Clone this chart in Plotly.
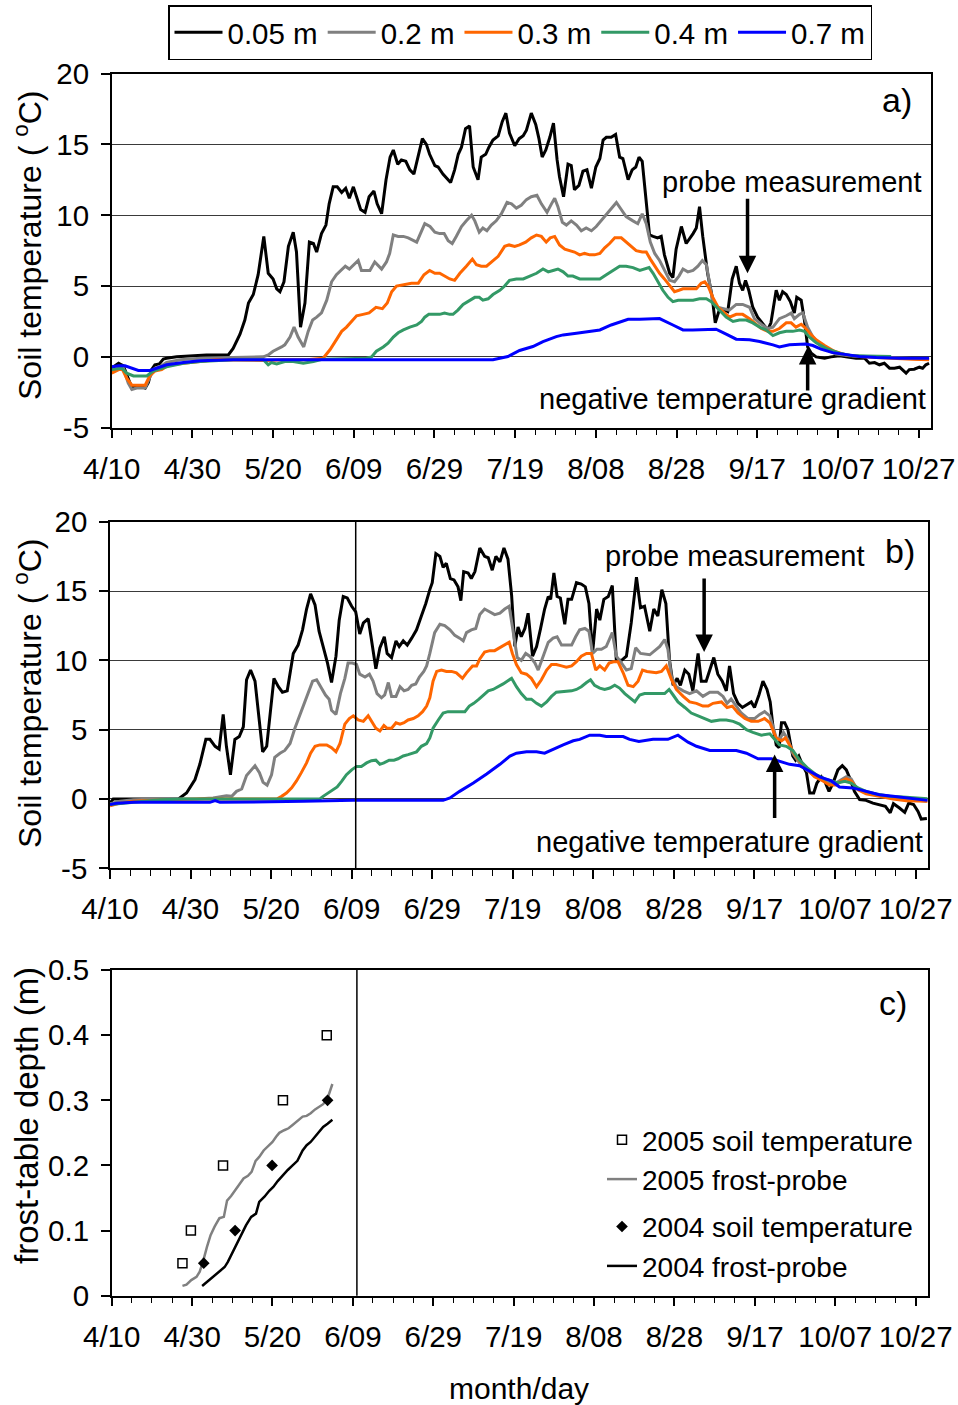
import plotly.graph_objects as go

# ---------------------------------------------------------------- data
# x values are days counted from 10 April
TICK_DAYS = [0, 20, 40, 60, 80, 100, 120, 140, 160, 180, 200]
TICK_LABELS = ["4/10", "4/30", "5/20", "6/09", "6/29", "7/19", "8/08",
               "8/28", "9/17", "10/07", "10/27"]
TEMP_TICKS = [-5, 0, 5, 10, 15, 20]
TEMP_LABELS = ["-5", "0", "5", "10", "15", "20"]
DEPTH_TICKS = [0, 0.1, 0.2, 0.3, 0.4, 0.5]
DEPTH_LABELS = ["0", "0.1", "0.2", "0.3", "0.4", "0.5"]

SENSOR_DEPTHS = ["0.05 m", "0.2 m", "0.3 m", "0.4 m", "0.7 m"]

# panel a) soil temperature (day, degC)
A_005 = [(0, -0.8), (1.7, -0.45), (2.9, -0.63), (4.1, -1.6), (5, -2.2), (6.2, -2.05), (7.4, -2.1),
         (8.3, -2.2), (9.1, -1.8), (9.9, -0.9), (10.7, -0.56), (11.8, -0.5), (12.8, -0.16), (13.6, -0.1),
         (16.1, 0), (23.5, 0.14), (28.9, 0.14), (30.1, 0.6), (31.8, 1.6), (33, 2.6), (33.9, 3.8), (35.1, 4.4),
         (36.3, 5.8), (37.7, 8.5), (38.8, 5.9), (40, 5.5), (40.9, 4.8), (41.7, 4.6), (42.7, 5.3), (43.8, 7.8),
         (45, 8.8), (45.8, 7.4), (46.8, 2.1), (47.9, 3.8), (49, 8.1), (50, 8.0), (50.8, 7.4), (52, 8.7),
         (53.1, 9.3), (53.9, 10.8), (54.9, 12.0), (55.9, 12.0), (57, 11.6), (58, 11.9), (58.9, 11.2),
         (59.9, 12.0), (60.9, 11.1), (61.7, 10.4), (62.8, 10.2), (63.8, 11.3), (65, 11.7), (65.8, 10.8),
         (66.9, 10.1), (68, 12.5), (69, 14.1), (69.8, 14.6), (70.9, 13.6), (71.8, 13.9), (72.9, 13.8),
         (73.9, 13.2), (74.9, 12.9), (76, 14.3), (77, 15.4), (78, 15.0), (78.8, 14.3), (80.1, 13.5),
         (80.9, 13.4), (82.1, 12.9), (83, 12.6), (84, 12.3), (85, 13.2), (85.9, 14.3), (86.7, 14.8),
         (87.7, 16.1), (88.7, 16.3), (89.6, 13.4), (90.8, 12.5), (91.6, 14.1), (92.7, 14.3), (93.5, 14.8),
         (94.5, 15.3), (95.8, 15.6), (96.8, 16.6), (97.7, 17.2), (98.6, 15.8), (99.9, 14.9), (101, 15.4),
         (102, 15.6), (102.8, 16.0), (104, 17.2), (105.1, 16.4), (105.9, 15.4), (106.7, 14.1), (107.6, 14.6),
         (108.6, 15.5), (109.5, 16.5), (110.4, 13.9), (111, 12.7), (112, 11.3), (113.1, 13.6), (113.9, 13.5),
         (114.7, 11.8), (115.8, 12.1), (116.8, 13.1), (117.8, 13.2), (118.9, 11.9), (120, 13.4), (121, 14.0),
         (121.8, 15.3), (122.6, 15.5), (123.8, 15.5), (124.9, 15.7), (125.9, 14.1), (126.7, 14.0),
         (128, 12.5), (129, 13.2), (129.9, 13.4), (130.7, 14.1), (131.5, 13.8), (132.5, 10.6), (133.3, 8.6),
         (134.2, 8.5), (135.3, 8.4), (136.2, 8.5), (137, 7.2), (138.3, 5.9), (139.1, 5.6), (139.9, 7.6),
         (141.2, 9.2), (142.4, 8.0), (143.2, 8.3), (144.1, 8.7), (144.9, 9.1), (145.7, 10.6), (146.5, 8.5),
         (147.7, 5.9), (148.8, 4.3), (149.6, 2.4), (150.6, 3.3), (151.9, 3.3), (152.7, 3.2), (153.8, 5.5),
         (154.8, 6.4), (155.6, 5.2), (156.4, 4.7), (157.1, 5.4), (157.9, 4.7), (158.9, 3.5), (160.1, 2.8),
         (161.4, 2.3), (162.6, 1.9), (163.4, 2.4), (164.7, 4.7), (165.5, 4.0), (166.3, 4.6), (167.2, 4.4),
         (168.2, 3.9), (169.2, 3.1), (169.8, 4.2), (170.9, 4.0), (171.7, 2.6), (172.5, 0.7), (173.4, 0.26),
         (174.6, 0), (176.7, -0.1), (178.3, 0), (180.4, 0.07), (182.4, -0.02), (184.5, -0.1), (186.6, -0.1),
         (187.8, -0.45), (189.1, -0.4), (190.3, -0.56), (191.5, -0.45), (192.8, -0.8), (194, -0.8),
         (195.3, -0.73), (196.9, -1.15), (197.7, -0.9), (198.9, -0.87), (200.2, -0.73), (201, -0.8),
         (201.8, -0.56), (202.6, -0.45)]

A_020 = [(0, -1.0), (1.7, -0.8), (2.9, -0.8), (4.1, -1.85), (5, -2.3), (6.2, -2.2), (7.4, -2.2), (8.3, -2.2),
         (9.5, -1.4), (10.7, -0.8), (12, -0.7), (13.6, -0.4), (17, -0.2), (21.9, -0.1), (30.1, -0.05),
         (37.6, 0), (38.8, 0.14), (40, 0.4), (42.1, 0.7), (42.9, 0.85), (44.2, 1.4), (45.2, 2.1), (46.2, 1.4),
         (47.6, 0.7), (48.7, 1.8), (49.8, 2.6), (50.8, 2.8), (52, 3.1), (53.3, 4.0), (54.5, 5.3), (55.7, 5.8),
         (56.7, 6.1), (57.9, 6.4), (58.9, 6.2), (59.9, 6.5), (61.1, 6.8), (61.9, 6.1), (64, 6.1), (65.2, 6.7),
         (66.9, 6.2), (68.1, 6.7), (68.9, 7.3), (69.8, 8.6), (71, 8.5), (72.3, 8.5), (73.5, 8.4), (75.6, 8.1),
         (76.8, 8.9), (77.6, 9.4), (78.9, 9.2), (80.1, 8.8), (81.3, 8.7), (82.4, 8.7), (83.4, 8.2), (84.4, 8.0),
         (85.4, 8.5), (86.7, 9.2), (87.9, 9.6), (89.2, 10.0), (90, 9.6), (91.1, 8.8), (92, 9.1), (93, 8.9),
         (94.1, 9.3), (95.3, 9.6), (96.6, 10.1), (98, 10.9), (99.1, 10.8), (100.3, 10.5), (101.5, 10.7),
         (102.8, 11.1), (104, 11.3), (105.4, 11.4), (106.5, 10.8), (107.9, 10.2), (109, 10.8), (109.8, 11.2),
         (110.6, 10.6), (111.7, 9.5), (112.7, 9.3), (113.9, 9.6), (115.2, 9.3), (116.4, 8.9), (117.6, 9.1),
         (118.9, 8.9), (120.1, 9.2), (121.8, 9.8), (123, 10.2), (124.3, 10.6), (125.1, 10.9), (126.3, 10.4),
         (127.5, 9.9), (129.2, 9.6), (130.4, 9.4), (131.5, 10.1), (132.5, 9.4), (133.5, 8.1), (134.6, 7.3),
         (135.8, 6.8), (137, 6.1), (138.3, 5.4), (139.5, 5.3), (140.6, 5.7), (141.6, 6.2), (142.8, 6.0),
         (144.1, 6.1), (145.3, 6.4), (146.4, 6.8), (147.4, 6.5), (148.2, 5.2), (149, 3.8), (150.2, 3.5),
         (151.9, 3.4), (153.1, 3.3), (154.8, 3.7), (156.4, 3.7), (158.1, 3.5), (159.3, 2.7), (161, 2.3),
         (162.6, 2.0), (163.9, 2.1), (165.5, 2.7), (167.2, 2.9), (168.4, 3.1), (169.2, 2.7), (170.5, 3.0),
         (171.3, 3.1), (172.5, 2.1), (173.8, 1.4), (175.4, 0.85), (177.1, 0.5), (179.5, 0.2), (182.9, 0.07),
         (187, 0.02), (190.3, -0.05), (193.6, -0.1), (196.9, -0.14), (200.2, -0.16), (202.6, -0.16)]

A_030 = [(0, -1.15), (1.7, -0.9), (2.5, -0.8), (3.7, -1.5), (5, -2.0), (6.2, -2.0), (8.3, -2.0), (9.5, -1.3),
         (10.7, -1.0), (12.4, -0.9), (14, -0.6), (17.8, -0.45), (21.9, -0.33), (26, -0.2), (38.4, -0.26),
         (42.5, -0.2), (48.3, -0.2), (52.4, -0.1), (54.1, 0.5), (55.7, 1.2), (57, 1.8), (58.2, 2.1),
         (59.5, 2.5), (60.7, 2.9), (62.3, 3.0), (63.8, 3.1), (65.5, 3.5), (67.1, 3.4), (68.3, 3.8),
         (69.4, 4.6), (70.6, 5.0), (72.3, 5.1), (74.3, 5.2), (76, 5.2), (77.4, 5.8), (78.8, 6.1), (80.1, 5.9),
         (81.3, 5.9), (82.5, 5.7), (83.8, 5.5), (85, 5.4), (86.3, 5.9), (87.9, 6.4), (89.4, 6.9), (90.4, 6.5),
         (91.6, 6.4), (92.9, 6.4), (94.1, 6.7), (95.8, 7.1), (97.4, 7.8), (98.5, 7.9), (99.9, 7.8),
         (101.1, 7.9), (102.6, 8.1), (104, 8.4), (105.3, 8.6), (106.5, 8.5), (107.7, 8.1), (108.7, 8.4),
         (109.8, 8.5), (111, 7.9), (112.3, 7.6), (113.5, 7.5), (114.7, 7.4), (116, 7.2), (117.2, 7.3),
         (118.5, 7.2), (119.7, 7.2), (121, 7.3), (122.2, 7.7), (123.4, 8.0), (124.7, 8.4), (126.3, 8.4),
         (127.5, 8.1), (128.8, 7.8), (130, 7.5), (131.5, 7.4), (132.5, 7.4), (133.5, 6.9), (134.6, 6.4),
         (135.8, 5.9), (137, 5.5), (138.4, 5.0), (139.5, 4.6), (140.6, 4.7), (141.6, 4.8), (144.9, 4.8),
         (146.1, 5.2), (147, 5.3), (147.8, 5.0), (149, 4.2), (150.3, 3.5), (151.9, 3.1), (153.1, 2.8),
         (154.8, 3.0), (156.4, 3.0), (158.1, 2.7), (159.3, 2.4), (161, 2.0), (162.6, 1.8), (163.9, 1.8),
         (165.5, 2.0), (167.2, 2.4), (168.4, 2.4), (169.6, 2.1), (170.9, 2.3), (171.7, 2.1), (172.9, 1.7),
         (174.6, 1.2), (176.7, 0.8), (179.1, 0.4), (182, 0.14), (185.3, 0.02), (189.5, -0.05),
         (193.6, -0.12), (198.5, -0.16), (202.6, -0.2)]

A_040 = [(0, -0.9), (1.7, -0.8), (2.5, -0.8), (3.7, -1.15), (5.4, -1.35), (8.7, -1.35), (10.3, -1.0),
         (13.6, -0.7), (17.8, -0.45), (21.9, -0.33), (30.1, -0.2), (37.6, -0.2), (38.8, -0.56), (39.6, -0.4),
         (40.9, -0.5), (42.9, -0.33), (45, -0.33), (47.5, -0.45), (50, -0.33), (52.4, -0.16), (58.2, -0.1),
         (63.2, -0.1), (64.4, 0), (65.6, 0.4), (67.3, 0.7), (68.5, 0.96), (69.8, 1.4), (71, 1.7), (72.3, 1.9),
         (73.9, 2.1), (75.6, 2.25), (76.8, 2.5), (77.6, 2.8), (78.6, 3.0), (80.1, 3.0), (81.3, 3.0),
         (82.5, 3.1), (83.8, 3.0), (84.6, 3.0), (85.8, 3.3), (87.1, 3.7), (88.3, 3.9), (90, 4.2), (91.1, 4.2),
         (92, 4.0), (93.3, 4.1), (94.5, 4.4), (96.2, 4.7), (97.4, 5.0), (98.6, 5.4), (100.3, 5.5), (102, 5.5),
         (103.6, 5.7), (105.3, 5.9), (106.9, 6.2), (108.2, 6.0), (109.4, 6.1), (110.6, 6.2), (111.9, 6.0),
         (113.1, 5.7), (114.3, 5.7), (116, 5.5), (117.6, 5.5), (119.3, 5.5), (121, 5.5), (122.6, 5.8),
         (124.3, 6.1), (125.9, 6.4), (127.5, 6.4), (129.2, 6.3), (130.9, 6.1), (132.1, 6.2), (133.2, 6.3),
         (134.2, 5.9), (135.4, 5.3), (136.6, 4.7), (137.9, 4.2), (139.1, 3.9), (140.4, 4.0), (144.1, 4.0),
         (145.7, 4.1), (147.4, 4.1), (148.6, 3.9), (150.3, 3.4), (152.3, 2.8), (154, 2.5), (155.6, 2.6),
         (157.3, 2.6), (158.9, 2.4), (160.6, 2.1), (162.2, 1.9), (163.9, 1.5), (165.5, 1.7), (167.2, 1.8),
         (168.8, 1.8), (170.5, 1.9), (171.7, 1.8), (172.9, 1.4), (174.6, 1.0), (177.1, 0.6), (180.4, 0.26),
         (183.7, 0.07), (188.6, 0.02), (193.2, 0.02)]

A_070 = [(0, -0.7), (1.7, -0.63), (3.3, -0.63), (5, -0.8), (6.6, -0.96), (9.5, -0.96), (11.1, -0.8),
         (13.6, -0.56), (17.8, -0.4), (21.9, -0.28), (30.1, -0.2), (94.5, -0.2), (98.2, 0.02), (101.1, 0.45),
         (104.4, 0.73), (106.9, 1.08), (110.2, 1.43), (111.9, 1.55), (115.2, 1.67), (118.5, 1.78),
         (121, 1.9), (123.8, 2.25), (126.3, 2.5), (128, 2.65), (130.9, 2.65), (134.1, 2.7), (135.8, 2.7),
         (139.1, 2.25), (141.6, 1.9), (144, 1.9), (147.3, 1.95), (149.8, 1.95), (152.3, 1.6), (154.8, 1.25),
         (158.1, 1.2), (160.6, 1.08), (163.9, 0.85), (165.5, 0.7), (168, 0.85), (170.5, 0.9), (172.1, 0.9),
         (173.8, 0.8), (175.8, 0.54), (178.7, 0.3), (182, 0.14), (185.3, 0.02), (189.5, -0.05),
         (195.2, -0.1), (202.6, -0.1)]

# panel b) soil temperature (day, degC)
B_005 = [(0, -0.3), (0.8, 0), (17, 0), (19, 0.43), (21.1, 1.4), (22.3, 2.5), (23.8, 4.3), (24.8, 4.3),
         (26.1, 3.8), (27.1, 3.6), (28.1, 6.1), (28.9, 3.8), (29.9, 1.75), (31, 4.3), (32.1, 4.5), (33.1, 5.2),
         (33.9, 8.6), (34.9, 9.3), (36, 8.5), (36.8, 6.2), (37.9, 3.4), (38.9, 3.8), (39.7, 6.2), (40.7, 8.7),
         (41.8, 8.1), (42.8, 7.7), (44, 7.8), (45.5, 10.5), (46.7, 11.1), (47.8, 12.2), (48.8, 13.7),
         (49.8, 14.8), (50.9, 14.0), (51.9, 12.1), (52.9, 11.0), (54, 9.8), (55, 8.4), (56.1, 10.3),
         (56.9, 12.9), (57.9, 14.6), (58.9, 14.5), (60, 13.9), (61, 13.5), (62, 11.9), (62.9, 12.7),
         (64.1, 13.0), (64.9, 11.5), (66, 9.4), (67, 10.9), (68.1, 11.7), (68.8, 10.5), (69.9, 10.2),
         (71, 11.4), (71.8, 11.0), (72.8, 11.4), (73.8, 11.1), (74.9, 11.6), (76.1, 12.2), (77.3, 13.2),
         (78.4, 14.1), (79.4, 15.1), (80, 15.6), (80.9, 17.7), (81.9, 17.5), (82.7, 16.7), (83.5, 17.0),
         (84.5, 15.9), (85.4, 15.8), (86.4, 15.3), (87.1, 14.3), (87.8, 16.4), (88.9, 16.3), (89.7, 15.9),
         (90.6, 16.4), (91.8, 18.1), (93, 17.5), (93.9, 17.4), (94.9, 16.5), (95.8, 17.5), (96.8, 17.1),
         (97.8, 18.1), (98.8, 17.3), (99.7, 14.7), (100.5, 11.0), (101.3, 12.4), (102.1, 11.7), (103, 12.3),
         (103.8, 13.4), (104.9, 10.3), (105.9, 11.0), (106.9, 12.3), (107.9, 13.7), (108.8, 14.6),
         (109.4, 14.4), (110.2, 16.3), (111, 14.6), (111.8, 14.5), (112.9, 12.6), (113.7, 14.4),
         (114.6, 14.4), (115.8, 15.6), (117, 15.5), (118, 15.3), (118.9, 14.1), (119.8, 10.5), (120.8, 13.7),
         (121.6, 12.9), (122.6, 14.4), (123.7, 14.6), (124.7, 15.4), (125.7, 10.0), (127, 10.0),
         (128.2, 10.3), (129.4, 12.7), (130.7, 16.0), (131.7, 13.8), (132.7, 13.9), (134, 12.1), (135, 13.7),
         (136, 13.2), (137, 15.1), (138, 14.1), (138.9, 10.0), (139.8, 8.2), (140.8, 8.7), (141.6, 8.2),
         (142.7, 9.3), (143.7, 9.0), (144.7, 7.8), (146, 10.5), (146.8, 8.5), (148, 8.5), (148.9, 9.3),
         (149.9, 10.2), (150.9, 9.0), (152, 8.5), (153, 7.8), (153.8, 9.6), (154.8, 7.6), (155.9, 6.9),
         (157, 6.6), (158.1, 6.8), (159.2, 7.0), (160, 6.6), (161.1, 7.5), (162.1, 8.5), (163.1, 7.9),
         (163.9, 7.0), (164.6, 5.2), (165.4, 3.9), (166.1, 3.7), (166.7, 5.5), (167.5, 5.5), (168.3, 5.0),
         (169.5, 3.1), (170.2, 2.8), (171, 3.1), (172, 2.4), (172.9, 1.9), (173.7, 0.43), (174.7, 0.43),
         (175.5, 1.15), (176.6, 1.6), (177.4, 1.3), (178.5, 0.55), (179.5, 1.15), (180.7, 2.1), (181.8, 2.4),
         (182.8, 2.1), (183.8, 1.4), (184.8, 0.55), (186.1, -0.05), (187.7, -0.1), (189.4, -0.3),
         (191.1, -0.4), (192.5, -0.53), (193.7, -1.0), (194.5, -0.34), (196, -0.65), (197.3, -0.96),
         (198.3, -0.3), (199.5, -0.4), (200.6, -0.9), (201.4, -1.45), (202.8, -1.4)]

B_020 = [(0, -0.34), (2.5, -0.17), (5.8, -0.05), (12.4, 0), (21.5, 0), (25.6, 0.07), (28.9, 0.24),
         (30.2, 0.19), (31.4, 0.55), (32.7, 0.72), (33.9, 1.7), (35.2, 2.1), (36, 2.4), (37.1, 1.9), (38, 1.2),
         (39, 1.0), (40.1, 1.75), (40.9, 3.0), (42.2, 3.3), (43.4, 3.5), (44.7, 4.0), (45.9, 5.1), (47.1, 6.0),
         (48.1, 6.7), (49.2, 7.6), (50.3, 8.5), (51.3, 8.6), (52.4, 8.1), (53.5, 7.5), (54.4, 7.2), (55, 6.4),
         (56.1, 6.1), (57.2, 7.6), (58.3, 8.7), (59.1, 9.8), (60.2, 9.8), (61.2, 9.7), (62, 9.0), (63.3, 8.8),
         (64.4, 9.0), (65.3, 8.5), (66.3, 7.6), (67.4, 7.3), (68.2, 7.5), (69.1, 8.4), (69.9, 7.4), (71, 7.4),
         (72, 8.1), (73, 7.8), (74, 7.9), (74.9, 8.2), (75.9, 8.3), (76.8, 8.8), (77.9, 9.2), (78.6, 9.6),
         (79.4, 10.5), (80.6, 12.0), (81.9, 12.6), (83.1, 12.5), (84.4, 12.2), (85.6, 11.8), (86.8, 11.6),
         (87.7, 11.4), (88.5, 12.0), (89.7, 12.2), (90.8, 12.3), (91.8, 13.3), (93, 13.7), (94.3, 13.5),
         (95.5, 13.3), (96.8, 13.4), (98, 13.7), (99.1, 13.9), (100.1, 12.0), (101.1, 10.2), (102.1, 10.0),
         (103.2, 10.5), (104.2, 10.3), (105.5, 9.8), (106.3, 9.3), (107.5, 10.3), (108.8, 11.3), (110, 11.6),
         (111, 11.7), (112.1, 11.1), (113.3, 11.1), (114.6, 11.1), (115.6, 11.7), (116.6, 12.2),
         (117.9, 12.3), (118.9, 12.1), (119.8, 10.5), (120.9, 10.8), (122, 10.8), (123.2, 11.0),
         (124.7, 12.0), (125.7, 10.3), (127, 9.8), (128.2, 9.3), (129.4, 9.4), (130.5, 10.9), (131.7, 10.5),
         (134, 10.4), (136.5, 11.0), (137.7, 11.5), (138.5, 10.8), (139.4, 8.8), (140.6, 8.1), (142.3, 7.8),
         (143.9, 7.6), (145.6, 7.8), (147.2, 7.4), (148.9, 7.7), (150.9, 7.7), (152.2, 7.4), (153.2, 6.9),
         (154.2, 7.2), (155.5, 6.7), (156.7, 6.2), (158.4, 5.8), (160, 5.8), (161.3, 6.1), (162.5, 6.3),
         (163.8, 6.0), (164.6, 5.2), (165.4, 4.4), (166.2, 4.3), (167.2, 4.8), (168.3, 4.3), (169.5, 3.3),
         (171.2, 2.6), (172.9, 2.1), (174.5, 1.75), (176.6, 1.4), (178.2, 1.15), (179.9, 1.1), (181.5, 1.4),
         (182.8, 1.6), (184, 1.45), (185.3, 0.8), (186.9, 0.55), (189.4, 0.38), (191.9, 0.24),
         (194.4, 0.12), (197.7, 0), (201, -0.12), (202.8, -0.17)]

B_030 = [(0, -0.5), (2.5, -0.3), (5.8, -0.17), (14, -0.05), (22.3, 0), (41.4, 0), (42.6, 0.19), (43.8, 0.43),
         (45.1, 0.8), (46.3, 1.3), (47.5, 1.9), (48.8, 2.6), (49.8, 3.3), (50.9, 3.8), (52.1, 3.9), (53.8, 3.9),
         (55, 3.7), (56.1, 3.4), (57.1, 4.0), (58.3, 5.4), (59.4, 5.8), (60.4, 6.0), (61.6, 5.7), (62.9, 5.6),
         (64.1, 6.0), (65.2, 5.5), (66, 5.1), (67, 4.9), (68, 5.3), (68.8, 5.1), (69.9, 5.1), (71, 5.5),
         (72, 5.4), (73, 5.5), (74, 5.7), (75.3, 5.8), (76.5, 6.0), (77.6, 6.3), (78.6, 6.7), (79.4, 7.3),
         (80.2, 8.5), (81.1, 9.2), (82.3, 9.3), (83.5, 9.2), (84.8, 9.2), (86, 9.1), (87.5, 8.7), (88.5, 9.1),
         (90, 9.6), (91, 9.6), (91.8, 10.1), (93, 10.6), (94.3, 10.7), (95.5, 10.7), (96.8, 10.9), (98, 11.1),
         (99.1, 11.3), (99.9, 10.5), (100.9, 9.7), (102.1, 9.1), (103.4, 9.0), (104.6, 8.7), (105.9, 8.1),
         (107.1, 8.6), (108.4, 9.3), (109.6, 9.7), (110.8, 9.7), (112.1, 9.6), (113.3, 9.5), (114.6, 9.6),
         (115.8, 9.9), (117, 10.3), (118.3, 10.5), (119.5, 10.5), (120.6, 9.3), (121.6, 9.6), (122.8, 9.3),
         (123.9, 9.8), (125, 9.9), (126.1, 9.9), (127.4, 9.1), (128.6, 8.2), (129.9, 8.1), (131.1, 8.5),
         (132.2, 9.3), (133.3, 9.2), (135.6, 9.1), (136.9, 9.2), (138.1, 9.6), (139.4, 8.6), (140.6, 7.9),
         (142.3, 7.4), (143.9, 7.0), (145.6, 6.9), (147.2, 6.7), (148.5, 6.7), (149.7, 6.9), (151.8, 7.0),
         (153.2, 6.6), (154.5, 6.7), (155.9, 6.2), (157.6, 5.8), (159.2, 5.6), (160.9, 5.6), (162.5, 5.8),
         (163.8, 5.5), (164.6, 5.0), (165.4, 4.4), (166.7, 4.2), (167.7, 4.4), (168.7, 3.9), (170, 3.2),
         (171.6, 2.6), (173.3, 2.1), (174.9, 1.6), (177, 1.3), (178.6, 1.0), (180.3, 1.0), (181.5, 1.3),
         (182.8, 1.45), (184, 1.3), (185.7, 0.67), (187.7, 0.38), (191, 0.19), (194.4, 0), (197.7, -0.12),
         (201, -0.17), (203, -0.17)]

B_040 = [(0, -0.4), (2.5, -0.34), (5.8, -0.24), (12.4, -0.05), (18.2, 0), (52.1, 0), (52.9, 0.19),
         (54.2, 0.43), (55.4, 0.63), (56.4, 0.87), (57.5, 1.27), (58.7, 1.75), (60, 2.1), (61.2, 2.35),
         (62.4, 2.35), (63.7, 2.6), (64.9, 2.76), (66, 2.8), (67, 2.5), (68, 2.6), (69.3, 2.8), (70.5, 2.8),
         (71.5, 2.9), (72.8, 3.1), (74, 3.2), (75.3, 3.3), (76.1, 3.4), (77.3, 3.8), (78.6, 4.0), (79.4, 4.4),
         (80.2, 5.1), (81.5, 5.7), (82.7, 6.2), (83.9, 6.3), (88.1, 6.3), (89.2, 6.7), (90.3, 6.9), (91.6, 7.2),
         (92.8, 7.5), (93.9, 7.8), (95.1, 7.9), (96.4, 8.1), (97.6, 8.3), (98.6, 8.5), (99.7, 8.7),
         (100.9, 8.1), (102.1, 7.6), (103.4, 7.2), (104.6, 7.2), (105.9, 6.9), (107.1, 6.7), (108.4, 7.0),
         (109.6, 7.4), (110.8, 7.7), (114.6, 7.8), (115.8, 7.9), (117, 8.1), (118.3, 8.4), (119.3, 8.6),
         (120.3, 8.2), (121.6, 8.0), (122.8, 7.9), (124.1, 8.0), (125.3, 8.2), (126.5, 8.0), (127.8, 7.6),
         (129, 7.3), (130.3, 7.0), (131.5, 7.5), (132.7, 7.6), (137.7, 7.6), (138.8, 7.9), (139.8, 7.5),
         (141, 7.0), (142.7, 6.6), (144.3, 6.2), (146, 6.0), (147.6, 5.8), (149.3, 5.6), (151.4, 5.7),
         (153, 5.7), (154.7, 5.6), (156.3, 5.4), (158, 5.0), (159.6, 4.8), (161.7, 4.6), (163.8, 4.7),
         (165, 4.3), (166.2, 3.9), (167.9, 3.8), (169.5, 3.5), (171.2, 2.8), (173.3, 2.2), (175.3, 1.75),
         (177.4, 1.45), (179.1, 1.3), (180.7, 1.15), (182.4, 1.27), (184, 1.15), (185.7, 0.8), (187.7, 0.55),
         (190.2, 0.36), (193.5, 0.19), (197.7, 0.12), (201, 0.07), (203, 0.02)]

B_070 = [(0, -0.4), (1.7, -0.3), (5.8, -0.24), (24.8, -0.24), (26.1, -0.12), (27.3, -0.24), (48, -0.17),
         (60.4, -0.1), (82.7, -0.1), (84.4, 0.07), (86.8, 0.55), (90.2, 1.15), (93.5, 1.8), (96.8, 2.5),
         (99.3, 3.1), (100.9, 3.3), (103.4, 3.4), (105.9, 3.4), (107.9, 3.3), (110, 3.6), (112.5, 3.9),
         (115, 4.2), (116.6, 4.3), (119.1, 4.6), (121.6, 4.6), (123.2, 4.5), (125.7, 4.5), (127.4, 4.5),
         (129, 4.3), (131.3, 4.15), (134.8, 4.3), (138.5, 4.3), (141, 4.6), (143.5, 4.1), (145.6, 3.8),
         (148.9, 3.5), (152.2, 3.5), (155.5, 3.5), (158, 3.3), (160.9, 2.9), (164.2, 2.9), (166.7, 2.7),
         (168.7, 2.5), (171.2, 2.4), (173.7, 2.0), (176.2, 1.6), (179.1, 1.3), (181.1, 0.87), (184.4, 0.8),
         (187.7, 0.55), (191, 0.31), (194.4, 0.19), (198.5, 0.07), (203, -0.1)]

# panel c) frost-table depth (day, m)
SOIL_T_2005 = [(17.6, 0.05), (19.7, 0.1), (27.7, 0.2), (42.6, 0.3), (53.5, 0.4)]
SOIL_T_2004 = [(22.9, 0.05), (30.7, 0.1), (39.9, 0.2), (53.7, 0.3)]
PROBE_2005 = [(17.6, 0.015), (18.6, 0.017), (19.8, 0.024), (21.1, 0.029), (21.9, 0.037), (22.7, 0.052),
              (23.7, 0.075), (24.6, 0.093), (25.6, 0.106), (26.8, 0.119), (27.9, 0.121), (28.7, 0.146),
              (29.7, 0.153), (30.8, 0.162), (31.8, 0.17), (32.8, 0.18), (33.9, 0.184), (34.8, 0.19),
              (35.8, 0.207), (36.7, 0.213), (37.8, 0.223), (39.1, 0.231), (40, 0.236), (40.9, 0.244),
              (41.7, 0.25), (42.9, 0.254), (44, 0.257), (45, 0.262), (46.2, 0.268), (47.5, 0.275),
              (48.5, 0.276), (49.5, 0.28), (50.6, 0.286), (51.6, 0.29), (52.6, 0.294), (53.7, 0.303),
              (54.9, 0.325)]
PROBE_2004 = [(22.5, 0.015), (23.9, 0.022), (25.2, 0.029), (26.7, 0.037), (28.1, 0.044), (28.9, 0.052),
              (30.1, 0.067), (31.4, 0.081), (32.5, 0.096), (33.4, 0.108), (34.7, 0.121), (35.9, 0.126),
              (36.7, 0.144), (38, 0.152), (39.2, 0.161), (40.2, 0.167), (41.3, 0.176), (42.5, 0.185),
              (43.8, 0.193), (45, 0.2), (46.2, 0.207), (47.5, 0.223), (48.5, 0.231), (49.5, 0.236),
              (50.6, 0.244), (51.6, 0.253), (52.6, 0.259), (53.7, 0.264), (54.9, 0.27)]

# annotated events (day, value at arrow tip)
PROBE_ARROW_A = (157.6, 5.9)
GRADIENT_ARROW_A = (172.5, 0.7)
PROBE_ARROW_B = (147.5, 10.6)
GRADIENT_ARROW_B = (165.0, 3.2)
MARKER_DAY = 61  # vertical reference line in panels b) and c)

# ---------------------------------------------------------------- styling
W, H = 958, 1405
FONT = "Liberation Sans, Arial, sans-serif"
LINE_COLORS = ["#000000", "#808080", "#FF6600", "#339966", "#0000FF"]
X_RANGE = [0, 203]


def fx(px):
    return px / W


def fy(py):
    return 1 - py / H


def xy(points):
    return [p[0] for p in points], [p[1] for p in points]


fig = go.Figure()

for panel, series in (("a", [A_005, A_020, A_030, A_040, A_070]),
                      ("b", [B_005, B_020, B_030, B_040, B_070])):
    xa, ya = ("x", "y") if panel == "a" else ("x2", "y2")
    for name, pts, color in zip(SENSOR_DEPTHS, series, LINE_COLORS):
        x, y = xy(pts)
        fig.add_trace(go.Scatter(
            x=x, y=y, mode="lines", name=name,
            line=dict(color=color, width=3),
            xaxis=xa, yaxis=ya, showlegend=(panel == "a"), legend="legend",
            hoverinfo="skip"))

x, y = xy(PROBE_2005)
fig.add_trace(go.Scatter(x=x, y=y, mode="lines", name="2005 frost-probe",
                         line=dict(color="#808080", width=2.5),
                         xaxis="x3", yaxis="y3", legend="legend2",
                         legendgroup="2005", legendrank=2))
x, y = xy(PROBE_2004)
fig.add_trace(go.Scatter(x=x, y=y, mode="lines", name="2004 frost-probe",
                         line=dict(color="#000000", width=2.5),
                         xaxis="x3", yaxis="y3", legend="legend2",
                         legendgroup="2004", legendrank=4))
x, y = xy(SOIL_T_2005)
fig.add_trace(go.Scatter(x=x, y=y, mode="markers", name="2005 soil temperature",
                         marker=dict(symbol="square-open", size=9, color="black",
                                     line=dict(width=1.5, color="black")),
                         xaxis="x3", yaxis="y3", legend="legend2",
                         legendgroup="2005", legendrank=1))
x, y = xy(SOIL_T_2004)
fig.add_trace(go.Scatter(x=x, y=y, mode="markers", name="2004 soil temperature",
                         marker=dict(symbol="diamond", size=9, color="black"),
                         xaxis="x3", yaxis="y3", legend="legend2",
                         legendgroup="2004", legendrank=3))

tick_font = dict(family=FONT, size=29.5, color="black")


def x_axis(domain, anchor, labels=True):
    return dict(domain=domain, anchor=anchor, range=X_RANGE, automargin=False,
                tickmode="array", tickvals=TICK_DAYS, ticktext=TICK_LABELS,
                ticks="outside", ticklen=9, tickwidth=1.5, tickcolor="black",
                minor=dict(tickmode="linear", tick0=0, dtick=5, ticks="outside",
                           ticklen=6, tickwidth=1.2, tickcolor="black", showgrid=False),
                showticklabels=labels, tickfont=tick_font, ticklabelstandoff=5,
                showline=True, linewidth=1.5, linecolor="black", mirror=True,
                showgrid=False, zeroline=False, fixedrange=True)


def inner_ticks(domain, anchor, over):
    return dict(domain=domain, anchor=anchor, overlaying=over, range=X_RANGE,
                automargin=False,
                tickmode="array", tickvals=TICK_DAYS, ticks="inside", ticklen=10,
                tickwidth=1.5, tickcolor="black", showticklabels=False,
                showline=False, showgrid=False, zeroline=False)


def y_axis(domain, anchor, rng, vals, labels, grid):
    return dict(domain=domain, anchor=anchor, range=rng, automargin=False,
                tickmode="array", tickvals=vals, ticktext=labels,
                ticks="outside", ticklen=9, tickwidth=1.5, tickcolor="black",
                tickfont=tick_font, ticklabelstandoff=6,
                showline=True, linewidth=1.5, linecolor="black", mirror=True,
                showgrid=grid, gridcolor="#3a3a3a", gridwidth=1,
                zeroline=False, fixedrange=True)


XA = [fx(111.7), fx(930.7)]
XB = [fx(110), fx(927.7)]
XC = [fx(111.7), fx(927.7)]
YA = [fy(427.7), fy(73.5)]
YB = [fy(868.3), fy(521.7)]
YC = [fy(1295.7), fy(970)]

annotations = []


def text(s, px, py, size=29, angle=0):
    annotations.append(dict(text=s, x=fx(px), y=fy(py), xref="paper", yref="paper",
                            xanchor="center", yanchor="middle", showarrow=False,
                            textangle=angle, font=dict(family=FONT, size=size, color="black")))


def arrow(tip, tail_dy, xref, yref):
    annotations.append(dict(text="", x=tip[0], y=tip[1], xref=xref, yref=yref,
                            ax=0, ay=tail_dy, showarrow=True, arrowhead=2,
                            arrowsize=1.0, arrowwidth=3.5, arrowcolor="black"))


text("a)", 897, 100, 34)
text("b)", 900, 551, 34)
text("c)", 893, 1003, 34)
text("probe measurement", 791.5, 182)
text("negative temperature gradient", 732, 399)
text("probe measurement", 734.5, 556)
text("negative temperature gradient", 729.5, 842)
text("month/day", 519, 1388, 30)
text("Soil temperature ( <sup>o</sup>C)", 28, 246, 32, -90)
text("Soil temperature ( <sup>o</sup>C)", 28, 694, 32, -90)
text("frost-table depth (m)", 26, 1116, 33, -90)
arrow(PROBE_ARROW_A, -76, "x", "y")
arrow(GRADIENT_ARROW_A, 45, "x", "y")
arrow(PROBE_ARROW_B, -75, "x2", "y2")
arrow(GRADIENT_ARROW_B, 65, "x2", "y2")

shapes = [dict(type="line", xref=xr, yref=yr + " domain", x0=MARKER_DAY, x1=MARKER_DAY,
               y0=0, y1=1, line=dict(color="black", width=1.5))
          for xr, yr in (("x2", "y2"), ("x3", "y3"))]

fig.update_layout(
    width=W, height=H, margin=dict(l=0, r=0, t=0, b=0, autoexpand=False),
    paper_bgcolor="white", plot_bgcolor="white",
    font=dict(family=FONT, size=29, color="black"),
    xaxis=x_axis(XA, "y"), yaxis=y_axis(YA, "x", [-5, 20], TEMP_TICKS, TEMP_LABELS, True),
    xaxis2=x_axis(XB, "y2"), yaxis2=y_axis(YB, "x2", [-5, 20], TEMP_TICKS, TEMP_LABELS, True),
    xaxis3=x_axis(XC, "y3"), yaxis3=y_axis(YC, "x3", [0, 0.5], DEPTH_TICKS, DEPTH_LABELS, False),
    xaxis4=inner_ticks(XA, "y", "x"),
    xaxis5=inner_ticks(XB, "y2", "x2"),
    xaxis6=inner_ticks(XC, "y3", "x3"),
    legend=dict(x=fx(168), y=fy(5), xanchor="left", yanchor="top", orientation="h",
                bgcolor="white", bordercolor="black", borderwidth=1.5,
                font=dict(family=FONT, size=29.5, color="black"),
                itemwidth=48),
    legend2=dict(x=fx(602), y=fy(1115), xanchor="left", yanchor="top",
                 orientation="v", traceorder="grouped", tracegroupgap=8,
                 bgcolor="rgba(0,0,0,0)", borderwidth=0,
                 font=dict(family=FONT, size=28, color="black")),
    annotations=annotations, shapes=shapes, hovermode=False,
)

fig.write_html("out.html")
